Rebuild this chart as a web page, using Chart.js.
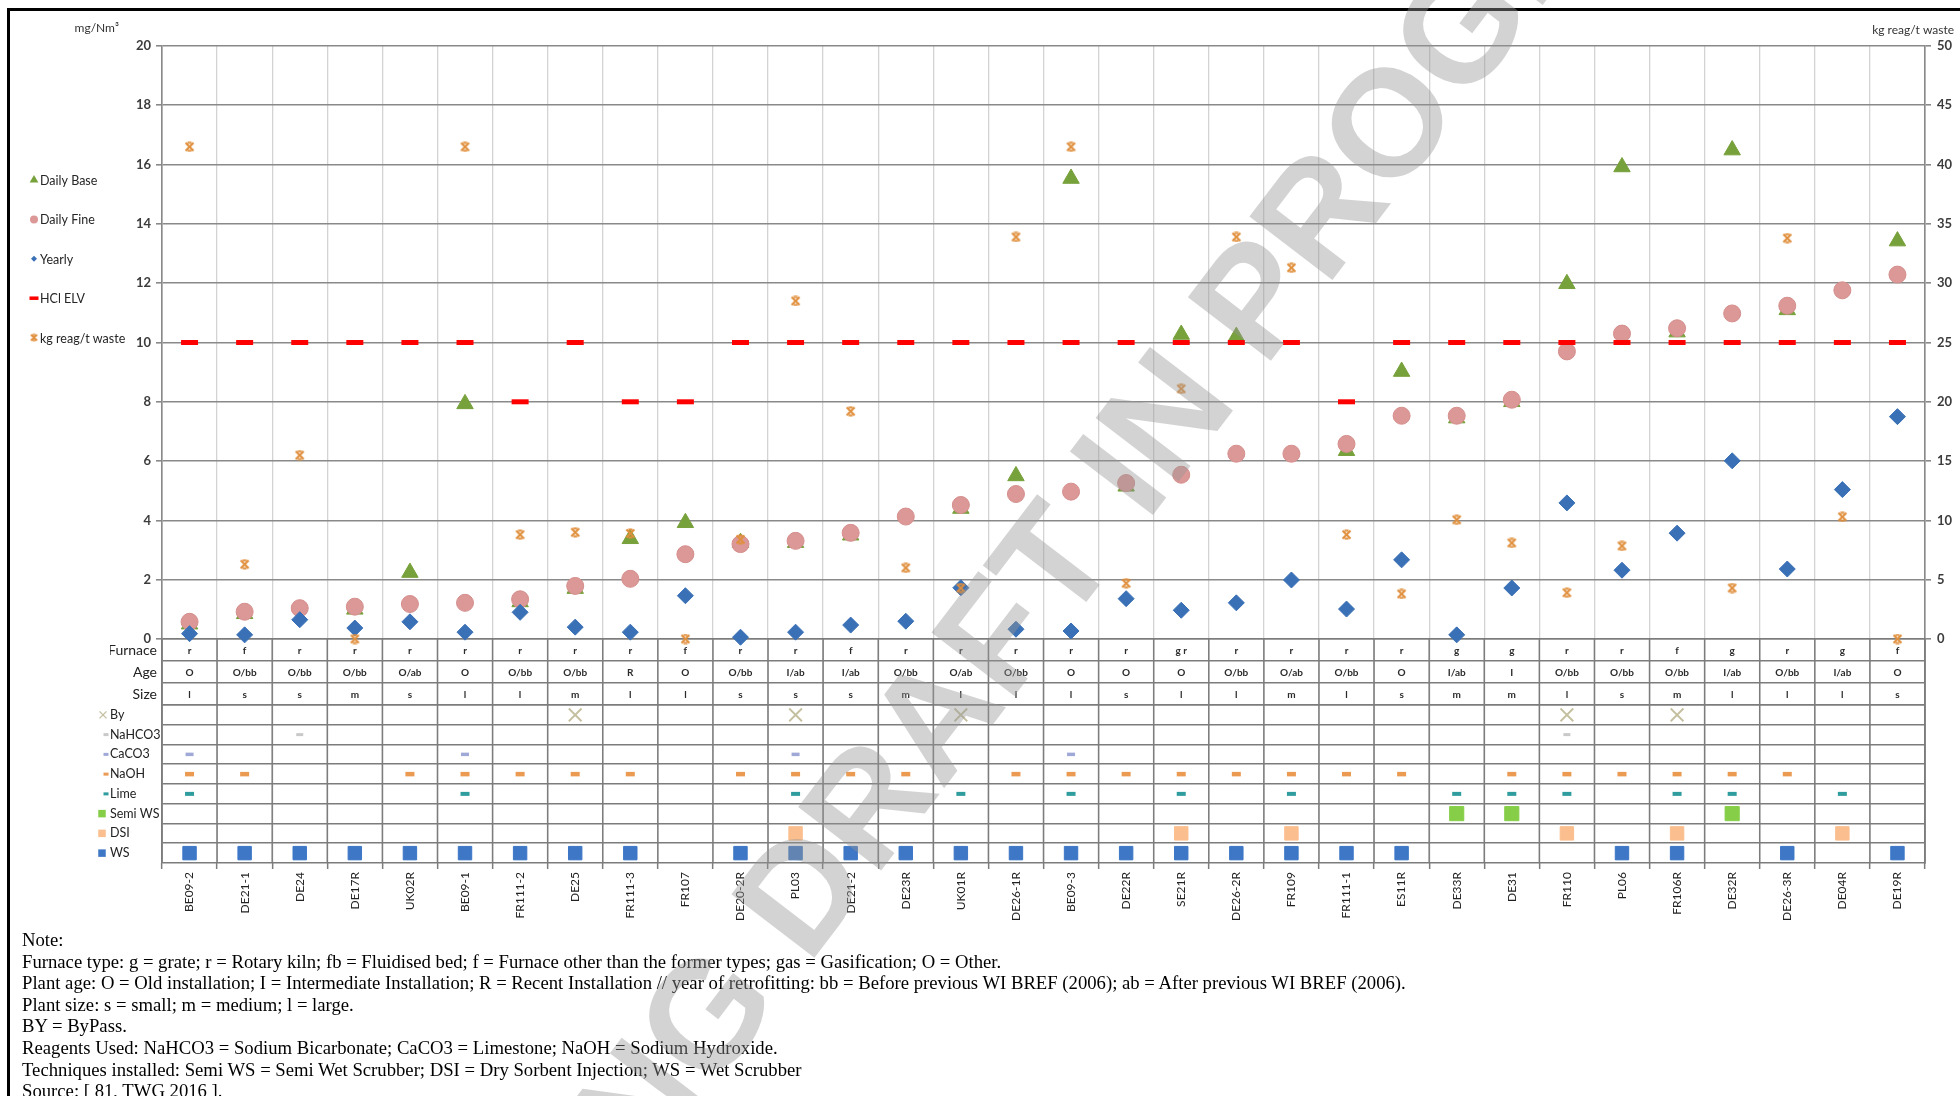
<!DOCTYPE html>
<html>
<head>
<meta charset="utf-8">
<title>HCl emissions and reagent use per plant</title>
<script src="https://cdn.jsdelivr.net/npm/chart.js@4.4.1/dist/chart.umd.min.js"></script>
<style>
  html, body { margin: 0; padding: 0; background: #fff; }
  body { position: relative; width: 1960px; height: 1096px; overflow: hidden; }
  #frame { position: absolute; left: 7px; top: 8px; width: 2000px; height: 1200px;
           border-top: 3px solid #000; border-left: 3px solid #000; }
  #wrap { position: absolute; left: 0; top: 0; width: 1960px; height: 930px; }
  #notes { position: absolute; left: 22px; top: 929px; white-space: nowrap; color: #000;
           font-family: 'Liberation Serif', 'Times New Roman', serif; font-size: 18.7px; line-height: 21.6px; }
  #stamp { position: absolute; left: 1015px; top: 608px; white-space: nowrap; pointer-events: none;
           transform: translate(-50%, -50%) rotate(-52.6deg); line-height: 1;
           font-family: 'Liberation Sans', Arial, sans-serif; font-weight: bold; font-size: 152px;
           color: rgba(150, 150, 150, 0.42); }
</style>
</head>
<body>
<div id="frame"></div>
<div id="wrap"><canvas id="chart" width="1960" height="930"></canvas></div>
<div id="notes">
  <div>Note:</div>
  <div>Furnace type: g = grate; r = Rotary kiln; fb = Fluidised bed; f = Furnace other than the former types; gas = Gasification; O = Other.</div>
  <div>Plant age: O = Old installation; I = Intermediate Installation; R = Recent Installation // year of retrofitting: bb = Before previous WI BREF (2006); ab = After previous WI BREF (2006).</div>
  <div>Plant size: s = small; m = medium; l = large.</div>
  <div>BY = ByPass.</div>
  <div>Reagents Used: NaHCO3 = Sodium Bicarbonate; CaCO3 = Limestone; NaOH = Sodium Hydroxide.</div>
  <div>Techniques installed: Semi WS = Semi Wet Scrubber; DSI = Dry Sorbent Injection; WS = Wet Scrubber</div>
  <div>Source: [ 81, TWG 2016 ].</div>
</div>
<div id="stamp">WORKING DRAFT IN PROGRESS</div>

<script>
// plants, in the order they are plotted
const categories = ['BE09-2', 'DE21-1', 'DE24', 'DE17R', 'UK02R', 'BE09-1', 'FR111-2', 'DE25', 'FR111-3', 'FR107',
  'DE20-2R', 'PL03', 'DE21-2', 'DE23R', 'UK01R', 'DE26-1R', 'BE09-3', 'DE22R', 'SE21R', 'DE26-2R', 'FR109',
  'FR111-1', 'ES11R', 'DE33R', 'DE31', 'FR110', 'PL06', 'FR106R', 'DE32R', 'DE26-3R', 'DE04R', 'DE19R'];

// HCl, mg/Nm3
const dailyBase = [0.5, 0.85, null, 1.0, 2.24, 7.93, 1.25, 1.7, 3.38, 3.92, 3.25, 3.25, 3.5, null, 4.4, 5.5,
  15.53, 5.15, 10.27, 10.2, null, 6.35, 9.02, 7.45, 8.0, 11.98, 15.92, 10.35, 16.49, 11.1, null, 13.42];
const dailyFine = [0.58, 0.92, 1.04, 1.09, 1.18, 1.22, 1.34, 1.79, 2.03, 2.86, 3.2, 3.31, 3.58, 4.13, 4.52, 4.89,
  4.97, 5.26, 5.54, 6.25, 6.25, 6.58, 7.53, 7.53, 8.07, 9.7, 10.3, 10.48, 10.98, 11.24, 11.76, 12.29];
const yearly = [0.18, 0.14, 0.65, 0.37, 0.58, 0.23, 0.9, 0.4, 0.23, 1.46, 0.06, 0.23, 0.47, 0.6, 1.73, 0.33,
  0.27, 1.36, 0.97, 1.22, 1.99, 1.01, 2.67, 0.14, 1.72, 4.59, 2.32, 3.57, 6.01, 2.36, 5.04, 7.5];
const hclElv = [10, 10, 10, 10, 10, 10, 8, 10, 8, 8, 10, 10, 10, 10, 10, 10,
  10, 10, 10, 10, 10, 8, 10, 10, 10, 10, 10, 10, 10, 10, 10, 10];
// kg reagent per tonne of waste (right axis)
const reagentUse = [41.5, 6.3, 15.5, 0, null, 41.5, 8.8, 9.0, 8.9, 0, 8.4, 28.5, 19.2, 6.0, 4.3, 33.9,
  41.5, 4.7, 21.1, 33.9, 31.3, 8.8, 3.8, 10.05, 8.1, 3.9, 7.85, null, 4.3, 33.8, 10.3, 0];

// plant description rows
const furnaceType = ['r', 'f', 'r', 'r', 'r', 'r', 'r', 'r', 'r', 'f', 'r', 'r', 'f', 'r', 'r', 'r',
  'r', 'r', 'g r', 'r', 'r', 'r', 'r', 'g', 'g', 'r', 'r', 'f', 'g', 'r', 'g', 'f'];
const plantAge = ['O', 'O/bb', 'O/bb', 'O/bb', 'O/ab', 'O', 'O/bb', 'O/bb', 'R', 'O', 'O/bb', 'I/ab', 'I/ab', 'O/bb', 'O/ab', 'O/bb',
  'O', 'O', 'O', 'O/bb', 'O/ab', 'O/bb', 'O', 'I/ab', 'I', 'O/bb', 'O/bb', 'O/bb', 'I/ab', 'O/bb', 'I/ab', 'O'];
const plantSize = ['l', 's', 's', 'm', 's', 'l', 'l', 'm', 'l', 'l', 's', 's', 's', 'm', 'l', 'l',
  'l', 's', 'l', 'l', 'm', 'l', 's', 'm', 'm', 'l', 's', 'm', 'l', 'l', 'l', 's'];

// bypass, reagents and techniques per plant
const byPass = ['DE25', 'PL03', 'UK01R', 'FR110', 'FR106R'];
const nahco3 = ['DE24', 'FR110'];
const caco3 = ['BE09-2', 'BE09-1', 'PL03', 'BE09-3'];
const naoh = ['BE09-2', 'DE21-1', 'UK02R', 'BE09-1', 'FR111-2', 'DE25', 'FR111-3', 'DE20-2R', 'PL03', 'DE21-2',
  'DE23R', 'DE26-1R', 'BE09-3', 'DE22R', 'SE21R', 'DE26-2R', 'FR109', 'FR111-1', 'ES11R', 'DE31', 'FR110',
  'PL06', 'FR106R', 'DE32R', 'DE26-3R'];
const lime = ['BE09-2', 'BE09-1', 'PL03', 'UK01R', 'BE09-3', 'SE21R', 'FR109', 'DE33R', 'DE31', 'FR110',
  'FR106R', 'DE32R', 'DE04R'];
const semiWs = ['DE33R', 'DE31', 'DE32R'];
const dsi = ['PL03', 'SE21R', 'FR109', 'FR110', 'FR106R', 'DE04R'];
const ws = ['BE09-2', 'DE21-1', 'DE24', 'DE17R', 'UK02R', 'BE09-1', 'FR111-2', 'DE25', 'FR111-3', 'DE20-2R',
  'PL03', 'DE21-2', 'DE23R', 'UK01R', 'DE26-1R', 'BE09-3', 'DE22R', 'SE21R', 'DE26-2R', 'FR109', 'FR111-1',
  'ES11R', 'PL06', 'FR106R', 'DE26-3R', 'DE19R'];

const infoRows = ['Furnace', 'Age', 'Size'];
const techRows = ['By', 'NaHCO3', 'CaCO3', 'NaOH', 'Lime', 'Semi WS', 'DSI', 'WS'];
const leftTicks = [0, 2, 4, 6, 8, 10, 12, 14, 16, 18, 20];
const rightTicks = [0, 5, 10, 15, 20, 25, 30, 35, 40, 45, 50];

const FONT = "Lato, 'Open Sans', sans-serif";

// little x-with-bars marker used for the reagent series
function reagentMark(size, color) {
  const c = document.createElement('canvas');
  c.width = c.height = size;
  const g = c.getContext('2d');
  const a = 1.5, b = size - 1.5;
  g.strokeStyle = color;
  g.lineWidth = 2;
  g.beginPath();
  g.moveTo(a, a); g.lineTo(b, b);
  g.moveTo(b, a); g.lineTo(a, b);
  g.moveTo(a + 2, a); g.lineTo(b - 2, a);
  g.moveTo(a + 2, b); g.lineTo(b - 2, b);
  g.stroke();
  return c;
}
const reagentImg = reagentMark(11, '#E08F3C');
const reagentImgSmall = reagentMark(9, '#E08F3C');

const mainSeries = [
  { label: 'Daily Base', data: dailyBase, style: 'triangle', r: 9.5, fill: '#77A13B', line: '#77A13B', lw: 1, order: 5, legendR: 5 },
  { label: 'Daily Fine', data: dailyFine, style: 'circle', r: 8.5, fill: '#DB9896', line: '#D48E8C', lw: 1, order: 4, legendR: 4 },
  { label: 'Yearly', data: yearly, style: 'rectRot', r: 8, fill: '#3A70B6', line: '#3A70B6', lw: 1, order: 3, legendR: 3 },
  { label: 'HCl ELV', data: hclElv, style: 'line', r: 8.5, fill: '#FF0000', line: '#FF0000', lw: 5, order: 2, legendR: 4.5 },
  { label: 'kg reag/t waste', data: reagentUse, style: reagentImg, legendStyle: reagentImgSmall, r: 5, fill: '#E08F3C', line: '#E08F3C', lw: 2, order: 1, axis: 'y2', legendR: 4 }
];

// keyDx: how far left of the row label the key sits
const techSeries = [
  { row: 'By', plants: byPass, style: 'crossRot', r: 9, fill: '#C4BF9F', line: '#C4BF9F', lw: 1.8, keyR: 5, keyDx: 7 },
  { row: 'NaHCO3', plants: nahco3, style: 'line', r: 3.5, fill: '#C9C9C9', line: '#C9C9C9', lw: 3, keyR: 2.5, keyDx: 4 },
  { row: 'CaCO3', plants: caco3, style: 'line', r: 4, fill: '#9FA8D6', line: '#9FA8D6', lw: 3.5, keyR: 2.5, keyDx: 4 },
  { row: 'NaOH', plants: naoh, style: 'line', r: 4.5, fill: '#EB9A52', line: '#EB9A52', lw: 4.5, keyR: 2.5, keyDx: 4 },
  { row: 'Lime', plants: lime, style: 'line', r: 4.5, fill: '#2F9C9E', line: '#2F9C9E', lw: 4, keyR: 2.5, keyDx: 4 },
  { row: 'Semi WS', plants: semiWs, style: 'rect', r: 10, fill: '#86CE48', line: '#86CE48', lw: 1, keyR: 5, keyDx: 8 },
  { row: 'DSI', plants: dsi, style: 'rect', r: 9.5, fill: '#FBBE8E', line: '#FBBE8E', lw: 1, keyR: 5, keyDx: 8 },
  { row: 'WS', plants: ws, style: 'rect', r: 9.5, fill: '#3D77C6', line: '#3D77C6', lw: 1, keyR: 5, keyDx: 8 }
];

function pointSet(s, data, yAxisID) {
  return {
    type: 'line', label: s.label || s.row, data, yAxisID, xAxisID: 'x',
    showLine: false, clip: false, order: s.order || 0,
    pointStyle: s.style, pointRadius: s.r, pointHoverRadius: s.r,
    pointBackgroundColor: s.fill, pointBorderColor: s.line, pointBorderWidth: s.lw
  };
}

const datasets = mainSeries.map(s => pointSet(s, s.data, s.axis || 'y'))
  .concat(techSeries.map(s => pointSet(s, s.plants.map(p => ({ x: p, y: s.row })), 'yTech')));

// small marker for the legend and the row keys
function drawKey(ctx, style, fill, line, lw, x, y, r) {
  ctx.save();
  ctx.fillStyle = fill; ctx.strokeStyle = line; ctx.lineWidth = lw;
  ctx.beginPath();
  if (style instanceof HTMLCanvasElement) {
    ctx.drawImage(style, x - style.width / 2, y - style.height / 2);
  } else if (style === 'triangle') {
    ctx.moveTo(x, y - r); ctx.lineTo(x + r * 0.87, y + r * 0.5); ctx.lineTo(x - r * 0.87, y + r * 0.5);
    ctx.closePath(); ctx.fill();
  } else if (style === 'circle') {
    ctx.arc(x, y, r, 0, Math.PI * 2); ctx.fill();
  } else if (style === 'rectRot') {
    ctx.moveTo(x, y - r); ctx.lineTo(x + r, y); ctx.lineTo(x, y + r); ctx.lineTo(x - r, y);
    ctx.closePath(); ctx.fill();
  } else if (style === 'rect') {
    ctx.rect(x - r * 0.75, y - r * 0.75, r * 1.5, r * 1.5); ctx.fill();
  } else if (style === 'line') {
    ctx.moveTo(x - r, y); ctx.lineTo(x + r, y); ctx.stroke();
  } else if (style === 'crossRot') {
    ctx.moveTo(x - r * 0.7, y - r * 0.7); ctx.lineTo(x + r * 0.7, y + r * 0.7);
    ctx.moveTo(x + r * 0.7, y - r * 0.7); ctx.lineTo(x - r * 0.7, y + r * 0.7); ctx.stroke();
  }
  ctx.restore();
}

const tablePlugin = {
  id: 'plantTable',
  beforeDatasetsDraw(chart) {
    const { ctx, chartArea: area, scales: { x, yInfo, yTech } } = chart;
    const n = categories.length;
    ctx.save();
    // darker column rules inside the table
    ctx.strokeStyle = '#7c7c7c';
    ctx.lineWidth = 1.5;
    ctx.beginPath();
    for (let i = 0; i <= n; i++) {
      const px = i === 0 ? area.left : i === n ? area.right
        : (x.getPixelForValue(i - 1) + x.getPixelForValue(i)) / 2;
      ctx.moveTo(px, yInfo.top);
      ctx.lineTo(px, yTech.bottom);
    }
    ctx.stroke();
    // furnace / age / size cells
    ctx.fillStyle = '#2b2b2b';
    ctx.font = 'bold 10px ' + FONT;
    ctx.textAlign = 'center';
    ctx.textBaseline = 'middle';
    [furnaceType, plantAge, plantSize].forEach((vals, r) => {
      const py = yInfo.getPixelForValue(r);
      vals.forEach((v, i) => ctx.fillText(v, x.getPixelForValue(i), py + 1));
    });
    ctx.restore();
  },
  afterDraw(chart) {
    const { ctx, chartArea: area, scales: { y, y2, yTech } } = chart;
    ctx.save();
    ctx.textBaseline = 'middle';
    ctx.fillStyle = '#333';
    ctx.font = '12px ' + FONT;
    // axis units
    ctx.textAlign = 'right';
    ctx.fillText('mg/Nm³', y.right - 43, area.top - 18);
    ctx.fillText('kg reag/t waste', y2.right - 6, area.top - 16);
    // legend of the plotted series
    ctx.textAlign = 'left';
    ctx.font = '12.5px ' + FONT;
    mainSeries.forEach((s, k) => {
      const cy = 180 + k * 39.4;
      drawKey(ctx, s.legendStyle || s.style, s.fill, s.line, s.style === 'line' ? 3.5 : s.lw, 34, cy, s.legendR);
      ctx.fillStyle = '#262626';
      ctx.fillText(s.label, 40, cy + 1);
    });
    // keys in front of the technique row labels
    techSeries.forEach((s, k) => {
      drawKey(ctx, s.style, s.fill, s.line, s.style === 'line' ? 3 : 1.4,
        yTech.left - s.keyDx, yTech.getPixelForValue(k), s.keyR);
    });
    ctx.restore();
  }
};

const gridDark = '#898989';
const tableLine = '#7c7c7c';

new Chart(document.getElementById('chart'), {
  data: { labels: categories, datasets },
  plugins: [tablePlugin],
  options: {
    responsive: false,
    animation: false,
    events: [],
    layout: { padding: { left: 110, right: 0, top: 46, bottom: 0 } },
    plugins: { legend: { display: false }, tooltip: { enabled: false } },
    scales: {
      x: {
        type: 'category', offset: true,
        grid: { offset: true, color: '#d3d3d3', lineWidth: 1.3, tickLength: 6, tickColor: tableLine, tickWidth: 1.5 },
        border: { display: false },
        ticks: { autoSkip: false, minRotation: 90, maxRotation: 90, padding: 3, color: '#222', font: { family: FONT, size: 12 } },
        afterFit: s => { s.height = 67; }
      },
      y: {
        type: 'linear', position: 'left', stack: 'left', stackWeight: 593, weight: 3,
        min: leftTicks[0], max: leftTicks[leftTicks.length - 1],
        ticks: { stepSize: leftTicks[1] - leftTicks[0], padding: 5, color: '#3c3c3c', font: { family: FONT, size: 13, weight: 'bold' } },
        grid: { color: gridDark, lineWidth: 1.6, tickLength: 6 },
        border: { color: gridDark, width: 1.6 },
        afterFit: s => { s.width = 52; }
      },
      yInfo: {
        type: 'category', labels: infoRows, position: 'left', stack: 'left', stackWeight: 66, weight: 2, offset: true,
        ticks: { autoSkip: false, padding: 5, color: '#222', font: { family: FONT, size: 14 } },
        grid: { offset: true, color: tableLine, lineWidth: 1.6, drawTicks: false },
        border: { color: tableLine, width: 1.6 },
        afterFit: s => { s.width = 52; }
      },
      yTech: {
        type: 'category', labels: techRows, position: 'left', stack: 'left', stackWeight: 158, weight: 1, offset: true,
        ticks: { autoSkip: false, crossAlign: 'far', padding: 5, color: '#222', font: { family: FONT, size: 12.5 } },
        grid: { offset: true, color: tableLine, lineWidth: 1.6, drawTicks: false },
        border: { color: tableLine, width: 1.6 },
        afterFit: s => { s.width = 52; }
      },
      y2: {
        type: 'linear', position: 'right', stack: 'right', stackWeight: 593, weight: 0,
        min: rightTicks[0], max: rightTicks[rightTicks.length - 1],
        ticks: { stepSize: rightTicks[1] - rightTicks[0], padding: 6, color: '#3c3c3c', font: { family: FONT, size: 13, weight: 'bold' } },
        grid: { drawOnChartArea: false, color: gridDark, lineWidth: 1.6, tickLength: 6 },
        border: { color: gridDark, width: 1.6 },
        afterFit: s => { s.width = 35; }
      },
      y2t: {
        type: 'category', labels: techRows, position: 'right', stack: 'right', stackWeight: 224, weight: 1,
        ticks: { display: false },
        grid: { display: false },
        border: { color: tableLine, width: 1.6 },
        afterFit: s => { s.width = 35; }
      }
    }
  }
});
</script>
</body>
</html>
